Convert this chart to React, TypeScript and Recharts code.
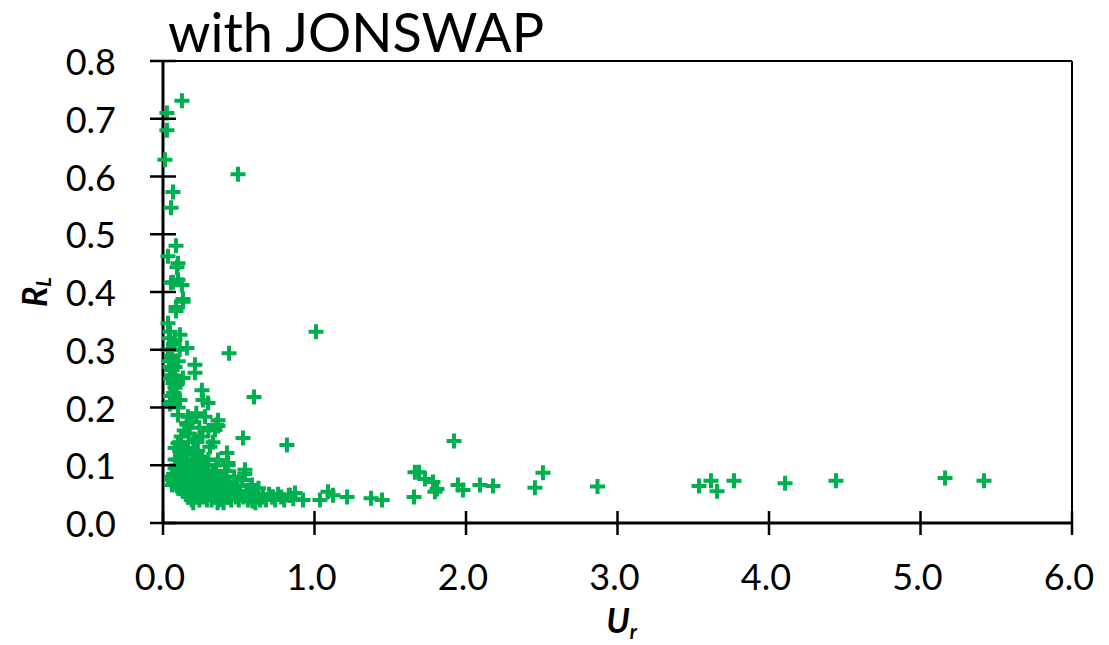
import React from 'react';
import { ScatterChart, Scatter, XAxis, YAxis, ReferenceLine } from 'recharts';

// [Ur, RL] pairs
const steepBranch: [number, number][] = [
  [0.125, 0.731], [0.026, 0.71], [0.026, 0.68], [0.013, 0.629], [0.066, 0.573],
  [0.053, 0.546], [0.086, 0.48], [0.033, 0.462], [0.099, 0.45], [0.092, 0.443],
  [0.066, 0.417], [0.099, 0.421], [0.125, 0.412], [0.053, 0.416], [0.132, 0.388],
  [0.086, 0.374], [0.132, 0.383], [0.086, 0.367], [0.033, 0.346], [0.046, 0.331],
  [0.112, 0.326], [0.079, 0.317], [0.158, 0.303], [0.033, 0.3], [0.059, 0.286],
  [0.211, 0.274], [0.046, 0.27], [0.211, 0.26], [0.059, 0.256], [0.132, 0.251],
  [0.066, 0.242], [0.079, 0.234], [0.257, 0.23], [0.264, 0.213], [0.112, 0.213],
  [0.297, 0.208], [0.046, 0.206], [0.099, 0.187], [0.165, 0.184], [0.277, 0.184],
  [0.158, 0.173], [0.363, 0.178], [0.191, 0.175], [0.363, 0.168],
  [0.04, 0.32], [0.05, 0.3], [0.06, 0.29], [0.04, 0.28], [0.06, 0.265],
  [0.05, 0.25], [0.07, 0.245], [0.08, 0.255], [0.05, 0.22], [0.06, 0.21],
  [0.07, 0.225], [0.09, 0.24], [0.08, 0.27], [0.07, 0.31], [0.1, 0.28],
  [0.11, 0.3], [0.1, 0.2], [0.12, 0.15], [0.14, 0.16], [0.17, 0.155],
  [0.22, 0.19], [0.24, 0.165], [0.26, 0.15], [0.3, 0.16], [0.33, 0.14], [0.2, 0.14],
];

const denseCluster: [number, number][] = [
  [0.158, 0.17], [0.356, 0.17], [0.343, 0.161], [0.099, 0.138], [0.211, 0.144],
  [0.165, 0.13], [0.31, 0.132], [0.422, 0.121], [0.125, 0.114], [0.257, 0.113],
  [0.363, 0.109], [0.429, 0.104], [0.541, 0.092], [0.059, 0.08], [0.079, 0.069],
  [0.059, 0.066], [0.521, 0.074], [0.587, 0.066],
  [0.06, 0.075], [0.07, 0.085], [0.08, 0.095], [0.09, 0.065], [0.1, 0.11],
  [0.11, 0.125], [0.12, 0.135], [0.13, 0.12], [0.09, 0.1], [0.12, 0.09],
  [0.14, 0.08], [0.15, 0.07], [0.1, 0.06], [0.13, 0.055], [0.15, 0.105],
  [0.08, 0.13], [0.11, 0.14], [0.14, 0.13],
  [0.16, 0.06], [0.17, 0.05], [0.18, 0.045], [0.19, 0.055], [0.2, 0.065],
  [0.21, 0.075], [0.22, 0.085], [0.23, 0.095], [0.24, 0.105], [0.25, 0.115],
  [0.17, 0.09], [0.18, 0.1], [0.19, 0.11], [0.2, 0.12], [0.16, 0.125],
  [0.22, 0.05], [0.24, 0.04], [0.26, 0.045], [0.27, 0.055], [0.28, 0.065],
  [0.29, 0.075], [0.3, 0.085], [0.26, 0.095], [0.27, 0.085], [0.21, 0.045],
  [0.19, 0.04], [0.23, 0.06], [0.25, 0.07], [0.28, 0.1], [0.3, 0.11],
  [0.18, 0.075], [0.16, 0.085], [0.2, 0.035], [0.29, 0.04],
  [0.31, 0.05], [0.32, 0.04], [0.33, 0.06], [0.34, 0.07], [0.35, 0.045],
  [0.36, 0.055], [0.37, 0.08], [0.38, 0.04], [0.39, 0.05], [0.4, 0.065],
  [0.41, 0.09], [0.42, 0.045], [0.43, 0.055], [0.44, 0.07], [0.45, 0.04],
  [0.33, 0.09], [0.35, 0.1], [0.36, 0.035], [0.4, 0.035], [0.43, 0.1],
  [0.32, 0.075], [0.38, 0.06], [0.42, 0.08],
  [0.46, 0.05], [0.47, 0.06], [0.48, 0.045], [0.5, 0.04], [0.51, 0.055],
  [0.52, 0.075], [0.53, 0.045], [0.55, 0.05], [0.56, 0.04], [0.58, 0.065],
  [0.6, 0.045], [0.61, 0.035], [0.62, 0.05], [0.64, 0.04], [0.66, 0.045],
  [0.68, 0.04], [0.7, 0.05], [0.72, 0.045], [0.74, 0.04], [0.76, 0.05],
  [0.78, 0.045], [0.8, 0.04], [0.83, 0.048], [0.86, 0.042], [0.57, 0.055],
  [0.59, 0.038], [0.49, 0.065], [0.54, 0.085], [0.47, 0.08], [0.63, 0.06],
  [0.08, 0.11], [0.1, 0.085], [0.13, 0.1], [0.15, 0.05], [0.17, 0.07],
  [0.21, 0.1], [0.23, 0.125], [0.24, 0.08], [0.26, 0.06], [0.28, 0.045],
  [0.31, 0.065], [0.34, 0.05], [0.37, 0.06], [0.39, 0.075], [0.41, 0.055],
  [0.44, 0.045], [0.13, 0.075], [0.11, 0.095], [0.07, 0.07], [0.35, 0.08],
];

const outliers: [number, number][] = [
  [0.495, 0.604], [1.01, 0.331], [0.436, 0.294], [0.601, 0.218], [0.818, 0.135],
  [0.528, 0.147],
];

const tailPoints: [number, number][] = [
  [0.726, 0.045], [0.838, 0.048], [0.871, 0.052], [0.924, 0.04], [1.036, 0.04],
  [1.089, 0.054], [1.122, 0.048], [1.215, 0.045], [1.373, 0.043], [1.446, 0.04],
  [1.657, 0.045], [1.663, 0.088], [1.69, 0.088], [1.729, 0.076], [1.782, 0.071],
  [1.809, 0.059], [1.795, 0.054], [1.921, 0.142], [1.947, 0.066], [1.98, 0.057],
  [2.092, 0.066], [2.178, 0.064], [2.455, 0.061], [2.508, 0.087], [2.868, 0.063],
  [3.538, 0.064], [3.617, 0.073], [3.657, 0.055], [3.769, 0.073], [4.106, 0.069],
  [4.442, 0.073], [5.162, 0.078], [5.419, 0.073],
];

const xTicks = [0, 1, 2, 3, 4, 5, 6];
const yTicks = [0, 0.1, 0.2, 0.3, 0.4, 0.5, 0.6, 0.7, 0.8];
const chartTitle = 'with JONSWAP';

const data = [...steepBranch, ...denseCluster, ...outliers, ...tailPoints].map(([ur, rl]) => ({ ur, rl }));

const FONT = 'Lato, "Open Sans", sans-serif';
const GREEN = '#00B050';

const Plus = (props: any) => {
  const { cx, cy } = props;
  if (cx == null || cy == null) return null;
  return (
    <path
      d={`M${cx - 7.5},${cy}H${cx + 7.5}M${cx},${cy - 7.5}V${cy + 7.5}`}
      stroke={GREEN}
      strokeWidth={4}
      fill="none"
    />
  );
};

const YTick = (props: any) => {
  const { x, y, payload } = props;
  return (
    <g>
      <line x1={x - 13} x2={x + 13} y1={y} y2={y} stroke="#000" strokeWidth={2.5} />
      <text x={x - 47} y={y} textAnchor="end" dominantBaseline="central" fontSize={36} fontFamily={FONT} fill="#000">
        {Number(payload.value).toFixed(1)}
      </text>
    </g>
  );
};

const XTick = (props: any) => {
  const { x, y, payload } = props;
  return (
    <g>
      <line x1={x} x2={x} y1={y - 12} y2={y + 12} stroke="#000" strokeWidth={2.5} />
      <text x={x - 3} y={y + 67} textAnchor="middle" fontSize={36} fontFamily={FONT} fill="#000">
        {Number(payload.value).toFixed(1)}
      </text>
    </g>
  );
};

const YLabel = (props: any) => {
  const vb = props.viewBox;
  const cx = vb.x + 39;
  const cy = vb.y + vb.height / 2;
  return (
    <text
      x={cx}
      y={cy}
      transform={`rotate(-90, ${cx}, ${cy})`}
      textAnchor="middle"
      fontSize={34}
      fontWeight="bold"
      fontStyle="italic"
      fontFamily={FONT}
      fill="#000"
    >
      R<tspan fontSize={20} dy={4}>L</tspan>
    </text>
  );
};

const XLabel = (props: any) => {
  const vb = props.viewBox;
  const cx = vb.x + vb.width / 2 + 4;
  return (
    <text x={cx} y={vb.y + 110} textAnchor="middle" fontSize={34} fontWeight="bold" fontStyle="italic" fontFamily={FONT} fill="#000">
      U<tspan fontSize={20} dy={6}>r</tspan>
    </text>
  );
};

export default function App() {
  return (
    <div style={{ position: 'relative', width: 1101, height: 637, background: '#fff' }}>
      <div
        style={{
          position: 'absolute',
          left: 160,
          top: -3,
          fontSize: 54,
          lineHeight: 1,
          fontFamily: FONT,
          color: '#000',
          whiteSpace: 'nowrap',
        }}
      >
        {chartTitle}
      </div>
      <ScatterChart width={1101} height={637} margin={{ top: 53, right: 37, bottom: 22, left: 0 }}>
        <XAxis
          type="number"
          dataKey="ur"
          domain={[0, 6]}
          ticks={xTicks}
          height={100}
          tickLine={false}
          tickSize={0}
          tickMargin={0}
          axisLine={{ stroke: '#000', strokeWidth: 3 }}
          tick={<XTick />}
          label={<XLabel />}
          interval={0}
        />
        <YAxis
          type="number"
          dataKey="rl"
          domain={[0, 0.8]}
          ticks={yTicks}
          width={155}
          tickLine={false}
          tickSize={0}
          tickMargin={0}
          axisLine={{ stroke: '#000', strokeWidth: 3 }}
          tick={<YTick />}
          label={<YLabel />}
          interval={0}
        />
        <ReferenceLine y={0.8} stroke="#000" strokeWidth={2} />
        <ReferenceLine x={6} stroke="#000" strokeWidth={2} />
        <Scatter data={data} shape={<Plus />} isAnimationActive={false} />
      </ScatterChart>
    </div>
  );
}
